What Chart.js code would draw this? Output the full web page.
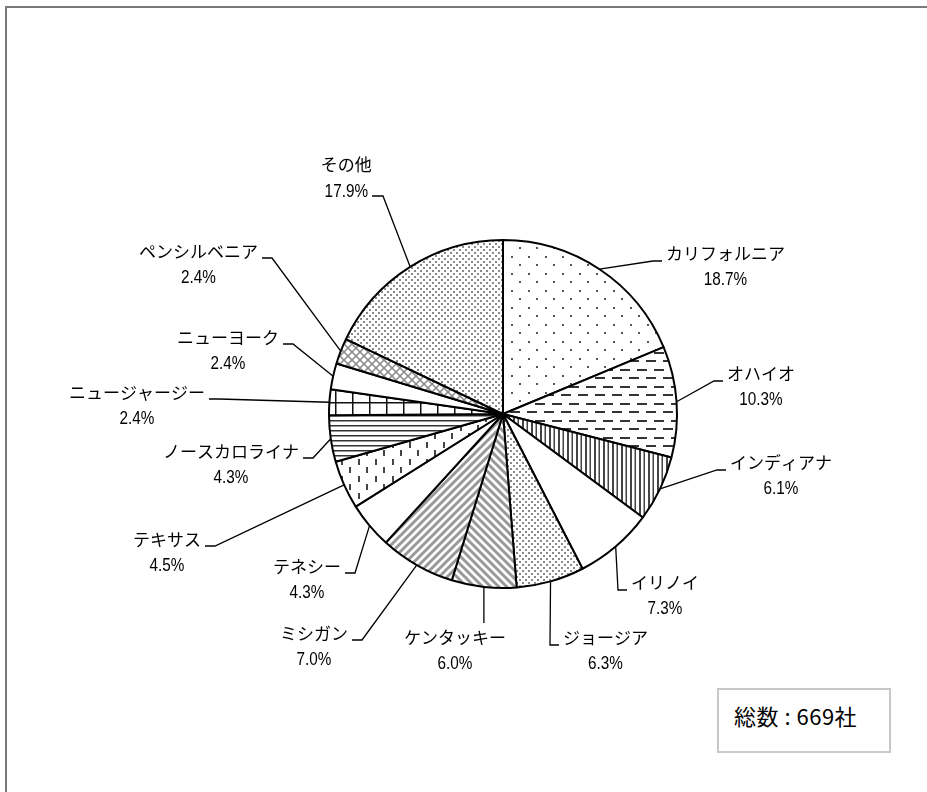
<!DOCTYPE html>
<html>
<head>
<meta charset="utf-8">
<script src="https://cdn.jsdelivr.net/npm/chart.js@4.4.1/dist/chart.umd.min.js"></script>
<style>
html,body{margin:0;padding:0;background:#fff;overflow:hidden;}
#wrap{position:relative;width:927px;height:792px;overflow:hidden;}
#frame{position:absolute;left:5px;top:6px;width:1000px;height:900px;border:2px solid #7a7a7a;box-sizing:border-box;}
#total{position:absolute;left:717px;top:688px;width:174px;height:65px;border:2px solid #c8c8c8;box-sizing:border-box;
  font-family:"Noto Sans CJK JP","Noto Sans",sans-serif;font-weight:400;font-size:22px;line-height:24px;padding:13px 0 0 15px;color:#000;background:#fff;letter-spacing:0.5px;}
canvas{position:absolute;left:0;top:0;}
</style>
</head>
<body>
<div id="wrap">
  <div id="frame"></div>
  <canvas id="c" width="927" height="792"></canvas>
  <div id="total">総数 : 669社</div>
</div>
<script>
// ---- data ----
const names = ["カリフォルニア","オハイオ","インディアナ","イリノイ","ジョージア","ケンタッキー","ミシガン","テネシー","テキサス","ノースカロライナ","ニュージャージー","ニューヨーク","ペンシルベニア","その他"];
const shares = [18.7, 10.3, 6.1, 7.3, 6.3, 6.0, 7.0, 4.3, 4.5, 4.3, 2.4, 2.4, 2.4, 17.9];
const patternKeys = ["sparseDots","dashes","vStripes","white","denseDots","diagBack","diagFwd","white","vDashes","hLines","grid","white","cross","denseDots"];
// label attach points: offset (px) from pie centre, and how the label sits
const labelAnchors = [
  [159,-153,'right'],[220,-33,'right'],[223,56,'right'],[124,176,'right'],[56,231,'right'],
  [-48,224,'top'],[-151,226,'left'],[-158,159,'left'],[-298,132,'left'],[-200,44,'left'],
  [-294,-15,'left'],[-220,-70,'left'],[-241,-156,'left'],[-131,-218,'left2']
];

// ---- patterns ----
function tile(w,h,fn){
  const c=document.createElement('canvas');c.width=w;c.height=h;
  const g=c.getContext('2d');g.fillStyle='#fff';g.fillRect(0,0,w,h);fn(g,w,h);
  return g.createPattern(c,'repeat');
}
const P={
  white:'#ffffff',
  sparseDots:tile(17,17,g=>{g.fillStyle='#555';g.fillRect(1,1,2,2);g.fillRect(9,9,2,2);}),
  dashes:tile(17,17,g=>{g.fillStyle='#333';g.fillRect(0,3,10,2);g.fillRect(8,12,9,2);g.fillRect(0,12,1,2);}),
  vStripes:tile(9,4,g=>{g.fillStyle='#444';g.fillRect(0,0,2,4);g.fillRect(4.5,0,1.5,4);}),
  denseDots:tile(6,6,g=>{g.fillStyle='#8a8a8a';g.fillRect(0,0,2,2);g.fillRect(3,3,2,2);}),
  diagBack:tile(8,8,g=>{g.strokeStyle='#999';g.lineWidth=3;g.beginPath();
    g.moveTo(-2,-2);g.lineTo(10,10);g.moveTo(-2,6);g.lineTo(2,10);g.moveTo(6,-2);g.lineTo(10,2);g.stroke();}),
  diagFwd:tile(8,8,g=>{g.strokeStyle='#999';g.lineWidth=3;g.beginPath();
    g.moveTo(-2,10);g.lineTo(10,-2);g.moveTo(-2,2);g.lineTo(2,-2);g.moveTo(6,10);g.lineTo(10,6);g.stroke();}),
  vDashes:tile(17,17,g=>{g.fillStyle='#444';g.fillRect(1,0,2,6);g.fillRect(9,8,2,6);}),
  hLines:tile(4,5,g=>{g.fillStyle='#333';g.fillRect(0,0,4,1.5);}),
  grid:tile(17,17,g=>{g.fillStyle='#111';g.fillRect(12,0,1.5,17);g.fillRect(0,11,17,1.5);}),
  cross:tile(8,8,g=>{g.strokeStyle='#888';g.lineWidth=1.5;g.beginPath();
    g.moveTo(-2,-2);g.lineTo(10,10);g.moveTo(-2,10);g.lineTo(10,-2);g.stroke();})
};

const NAME_FONT='17px "Noto Sans CJK JP", "Noto Sans", sans-serif';
const PCT_FONT='18px "Liberation Sans Narrow", "Liberation Sans", sans-serif';

const leaderPlugin={
  id:'leaders',
  afterDatasetsDraw(chart){
    const ctx=chart.ctx;const meta=chart.getDatasetMeta(0);
    const vals=chart.data.datasets[0].data;
    ctx.save();
    ctx.font=PCT_FONT;
    const narrowCheck=ctx.measureText('17.9%').width;
    const pScale=narrowCheck>46?0.85:1;
    meta.data.forEach((arc,i)=>{
      const p=arc.getProps(['x','y','startAngle','endAngle','outerRadius'],true);
      const mid=(p.startAngle+p.endAngle)/2;
      const ex=p.x+Math.cos(mid)*p.outerRadius, ey=p.y+Math.sin(mid)*p.outerRadius;
      const [dx,dy,mode]=labelAnchors[i];
      const ax=p.x+dx, ay=p.y+dy;
      const name=chart.data.labels[i];
      const pct=vals[i].toFixed(1)+'%';
      ctx.font=NAME_FONT;const nw=ctx.measureText(name).width;
      ctx.font=PCT_FONT;const pw=ctx.measureText(pct).width*pScale;
      let pts,nameCx,nameCy,pctCx,pctCy;
      if(mode==='right'){pts=[[ex,ey],[ax-9,ay],[ax,ay]];nameCx=ax+4+nw/2;nameCy=ay-7;}
      else if(mode==='left'){pts=[[ex,ey],[ax+10,ay],[ax,ay]];nameCx=ax-4-nw/2;nameCy=ay-6;}
      else if(mode==='left2'){pts=[[ex,ey],[ax+11,ay],[ax,ay]];pctCx=ax-4-pw/2;pctCy=ay-4;nameCx=pctCx;nameCy=pctCy-27;}
      else {nameCx=ax;nameCy=ay;pts=[[ex,ey],[ex,ay-15]];}
      if(pctCx===undefined){pctCx=nameCx;pctCy=nameCy+26;}
      ctx.strokeStyle='#000';ctx.lineWidth=1.3;ctx.beginPath();
      pts.forEach((q,k)=>k?ctx.lineTo(q[0],q[1]):ctx.moveTo(q[0],q[1]));ctx.stroke();
      ctx.fillStyle='#000';ctx.textAlign='center';ctx.textBaseline='middle';
      ctx.font=NAME_FONT;ctx.fillText(name,nameCx,nameCy);
      ctx.font=PCT_FONT;
      ctx.save();ctx.translate(pctCx,pctCy);ctx.scale(pScale,1);ctx.fillText(pct,0,0);ctx.restore();
    });
    ctx.restore();
  }
};

new Chart(document.getElementById('c'),{
  type:'pie',
  data:{labels:names,datasets:[{data:shares,backgroundColor:patternKeys.map(k=>P[k]),
    borderColor:'#000',borderWidth:2,hoverOffset:0}]},
  options:{
    responsive:false,animation:false,radius:174,
    layout:{padding:{top:200,bottom:164,left:150,right:71}},
    plugins:{legend:{display:false},tooltip:{enabled:false}},
    events:[]
  },
  plugins:[leaderPlugin]
});
</script>
</body>
</html>
